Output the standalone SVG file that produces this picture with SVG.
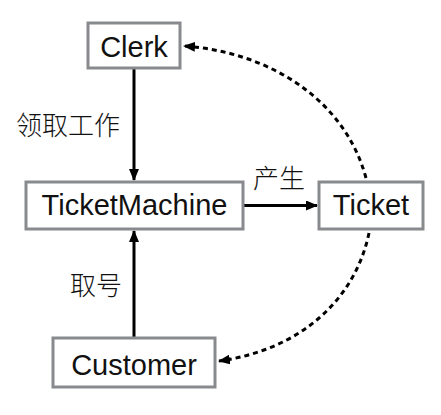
<svg xmlns="http://www.w3.org/2000/svg" width="441" height="415" viewBox="0 0 441 415">
<style>
.box{fill:#fff;stroke:#888a8d;stroke-width:3}
.t{font-family:"Liberation Sans",Arial,sans-serif;font-size:29px;fill:#111;text-anchor:middle}
.cn{font-family:"Noto Sans CJK SC","Liberation Sans",sans-serif;font-size:26px;fill:#111;font-weight:300}
.e{fill:none;stroke:#000;stroke-width:3}
.d{fill:none;stroke:#000;stroke-width:3;stroke-dasharray:5 4}
</style>
<defs>
<marker id="ah" viewBox="0 0 12 10" refX="11" refY="5" markerWidth="12" markerHeight="10" markerUnits="userSpaceOnUse" orient="auto">
<path d="M0,0 L12,5 L0,10 Z" fill="#000"/>
</marker>
</defs>
<g id="connectors">
<path class="e" d="M134,69 L134,180" marker-end="url(#ah)"/>
<path class="e" d="M244,205.5 L317,205.5" marker-end="url(#ah)"/>
<path class="e" d="M134,337 L134,231" marker-end="url(#ah)"/>
<path class="d" d="M366,178 C345,100 270,52 184,46" marker-end="url(#ah)"/>
<path class="d" d="M369,233 C355,300 300,350 219,361" marker-end="url(#ah)"/>
<text class="cn" x="16" y="135">领取工作</text>
<text class="cn" x="253" y="188">产生</text>
<text class="cn" x="70" y="295">取号</text>
</g>
<g id="clerk"><rect class="box" x="88" y="23" width="92" height="45"/><text class="t" x="134" y="57">Clerk</text></g>
<g id="ticketmachine"><rect class="box" x="26" y="182" width="217" height="47"/><text class="t" x="134.5" y="215">TicketMachine</text></g>
<g id="ticket"><rect class="box" x="319" y="182" width="104" height="47"/><text class="t" x="371" y="215">Ticket</text></g>
<g id="customer"><rect class="box" x="53" y="338" width="162" height="49"/><text class="t" x="134" y="375">Customer</text></g>
</svg>
